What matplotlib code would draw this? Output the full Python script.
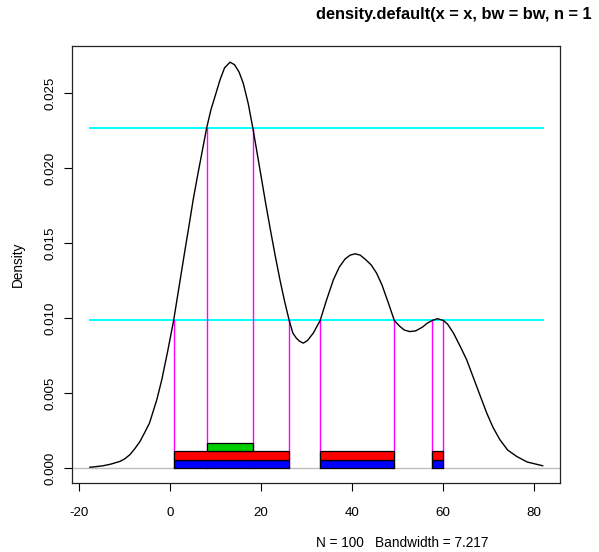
import matplotlib
matplotlib.use("Agg")
import matplotlib.pyplot as plt
from matplotlib.patches import Rectangle

plt.rcParams['font.family'] = ['Liberation Sans', 'DejaVu Sans']

# density curve
dens_x = [-17.6, -16.0, -14.7, -13.0, -11.0, -10.0, -8.8, -7.7, -6.6, -5.5, -4.5,
          -2.9, -1.8, -0.5, 0.8, 2.0, 3.3, 4.2, 5.1, 6.0, 7.0, 8.06, 9.0, 10.26,
          11.0, 12.0, 13.2, 14.2, 15.2, 16.1, 17.2, 18.2, 19.1, 20.0, 21.0, 22.0,
          23.1, 24.2, 25.2, 26.2, 27.0, 27.8, 28.5, 29.3, 30.2, 31.5, 33.0, 34.4,
          35.9, 37.2, 38.5, 39.6, 40.7, 41.8, 43.0, 44.2, 45.4, 46.6, 48.0, 49.3,
          50.5, 51.5, 52.7, 54.0, 55.5, 56.5, 57.6, 58.8, 60.1, 61.0, 62.3, 63.8,
          65.2, 67.4, 69.6, 71.0, 72.5, 74.2, 76.2, 78.5, 81.9]
dens_y = [0.00005, 0.00010, 0.00015, 0.00026, 0.00044, 0.00060, 0.00089, 0.00130,
          0.00177, 0.00240, 0.00300, 0.00455, 0.00589, 0.00780, 0.00984, 0.01210,
          0.01455, 0.01620, 0.01790, 0.01940, 0.02100, 0.02269, 0.02390, 0.02515,
          0.02590, 0.02670, 0.02707, 0.02690, 0.02640, 0.02567, 0.02430, 0.02269,
          0.02110, 0.01950, 0.01770, 0.01600, 0.01420, 0.01250, 0.01110, 0.00984,
          0.00900, 0.00865, 0.00845, 0.00833, 0.00850, 0.00900, 0.00984, 0.01120,
          0.01255, 0.01340, 0.01395, 0.01420, 0.01429, 0.01420, 0.01390, 0.01355,
          0.01300, 0.01220, 0.01100, 0.00984, 0.00945, 0.00920, 0.00910, 0.00915,
          0.00940, 0.00965, 0.00984, 0.00996, 0.00984, 0.00960, 0.00900, 0.00810,
          0.00722, 0.00544, 0.00367, 0.00270, 0.00189, 0.00120, 0.00077, 0.00040,
          0.00015]

# HDR levels
levels = [0.02269, 0.00984]
# vertical line positions (where density crosses a level)
vline_x = [0.8, 8.06, 18.2, 26.2, 33.0, 49.3, 57.6, 60.1]
vline_lev = [0.00984, 0.02269, 0.02269, 0.00984, 0.00984, 0.00984, 0.00984, 0.00984]

# HDR interval boxes: (start, end) per colour
blue_int = [(0.8, 26.2), (33.0, 49.3), (57.6, 60.1)]
red_int = [(0.8, 26.2), (33.0, 49.3), (57.6, 60.1)]
green_int = [(8.06, 18.2)]
box_levels = [(0.0, 0.00051), (0.00051, 0.00115), (0.00115, 0.00167)]

xticks = [-20, 0, 20, 40, 60, 80]
yticks = [0.000, 0.005, 0.010, 0.015, 0.020, 0.025]
ytick_labels = ["0.000", "0.005", "0.010", "0.015", "0.020", "0.025"]

# title as visible in the reference (cut at the right edge there)
title_text = "density.default(x = x, bw = bw, n = 1"

W, H = 599, 552
fig = plt.figure(figsize=(W / 100, H / 100), dpi=100)
L, R, T, B = 71.7, 560.0, 45.7, 483.3
ax = fig.add_axes([L / W, 1 - B / H, (R - L) / W, (B - T) / H])
ax.set_xlim(-21.6, 85.71)
ax.set_ylim(-0.00102, 0.02817)

ax.axhline(0, color='#BEBEBE', lw=1.0, zorder=1)
for lev in levels:
    ax.plot([dens_x[0], dens_x[-1]], [lev, lev], color='#00FFFF', lw=1.4, zorder=2)
for vx, vl in zip(vline_x, vline_lev):
    ax.plot([vx, vx], [0, vl], color='#FF00FF', lw=1.0, zorder=2)

for ints, col, (y0, y1) in zip([blue_int, red_int, green_int], ['#0000FF', '#FF0000', '#00CD00'], box_levels):
    for a, b in ints:
        ax.add_patch(Rectangle((a, y0), b - a, y1 - y0, facecolor=col, edgecolor='black', lw=0.9, zorder=3))

ax.plot(dens_x, dens_y, color='black', lw=1.0, zorder=4, solid_joinstyle='round')

ax.set_xticks(xticks)
ax.set_xticklabels([str(t) for t in xticks])
ax.set_yticks(yticks)
ax.set_yticklabels(ytick_labels, rotation=90, va='center')
ax.tick_params(axis='both', direction='out', length=6, width=0.8, labelsize=9.6, color='black')
ax.tick_params(axis='x', pad=11)
ax.tick_params(axis='y', pad=5)
for s in ax.spines.values():
    s.set_linewidth(0.9)
    s.set_color('#222222')

fig.text(18 / W, 1 - 264.5 / H, "Density", rotation=90, ha='center', va='center', fontsize=9.8)
fig.text(402 / W, 1 - 543 / H, "N = 100   Bandwidth = 7.217", ha='center', va='center', fontsize=9.8)
fig.text(316 / W, 1 - 14 / H, title_text, ha='left', va='center',
         fontsize=11.8, fontweight='bold')

fig.savefig("out.png", dpi=100)
